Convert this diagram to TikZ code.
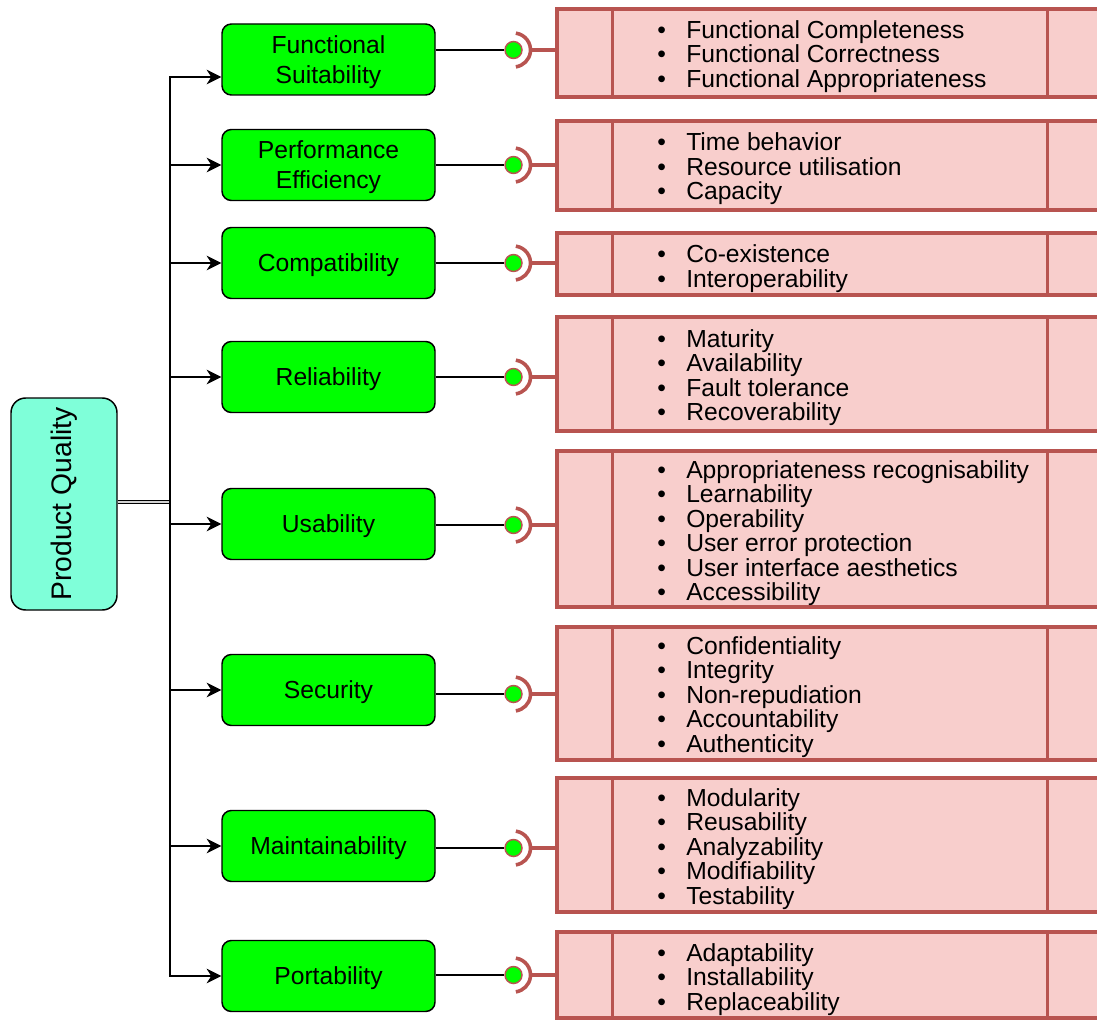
\documentclass[tikz,border=0pt]{standalone}
\usepackage{fontspec}
\setmainfont{Liberation Sans}
\usetikzlibrary{arrows.meta,calc}
\definecolor{gfill}{HTML}{00FF00}
\definecolor{pqfill}{HTML}{7FFFD9}
\definecolor{rline}{HTML}{B85450}
\definecolor{rfill}{HTML}{F8CECC}
\newcommand\itm[1]{\makebox[21.75pt][l]{\textbullet}#1}
\begin{document}
\begin{tikzpicture}[x=0.75pt,y=-0.75pt,
  pqnode/.style={draw=black, line width=1.1pt, fill=pqfill, rounded corners=11pt,
    minimum width=106*0.75pt, minimum height=212*0.75pt, inner sep=0pt,
    font=\fontsize{21.2}{25}\selectfont},
  gnode/.style={draw=black, line width=1.1pt, fill=gfill, rounded corners=7pt,
    minimum width=213*0.75pt, minimum height=71*0.75pt, inner sep=0pt, align=center,
    text depth=0pt, font=\fontsize{18.5}{22.5}\selectfont},
  feed/.style={draw=black, line width=1.1pt, -{Stealth[length=11pt,width=11pt,inset=3.5pt]}},
  dbl/.style={draw=black, line width=0.7pt, double=gray!35, double distance=1.4pt},
  link/.style={draw=black, line width=1.1pt},
  ball/.style={circle, draw=rline, line width=1.1pt, fill=gfill, minimum size=17*0.75pt, inner sep=0pt},
  socket/.style={draw=rline, line width=2.7pt},
  pbox/.style={draw=rline, fill=rfill, line width=2.3pt, minimum width=553*0.75pt, inner sep=0pt},
  divider/.style={draw=rline, line width=2.3pt},
  list/.style={anchor=west, align=left, inner sep=0pt, font=\fontsize{18.5}{18.4}\selectfont}
]
\useasboundingbox (0,0) rectangle (1097,1020);

% root
\node[pqnode] (pq) at (64,504) {\rotatebox{90}{Product Quality}};
\coordinate (j) at (170,502);
\draw[dbl] (pq.east |- j) -- (j);

% green nodes
\node[gnode] (g1) at (328.5,59.5) {Functional\\Suitability};
\node[gnode] (g2) at (328.5,165) {Performance\\Efficiency};
\node[gnode] (g3) at (328.5,263) {Compatibility};
\node[gnode] (g4) at (328.5,377) {Reliability};
\node[gnode] (g5) at (328.5,524) {Usability};
\node[gnode] (g6) at (328.5,690) {Security};
\node[gnode] (g7) at (328.5,846) {Maintainability};
\node[gnode] (g8) at (328.5,976) {Portability};

\draw[feed] (j) |- ([yshift=-17.5*0.75pt]g1.west);
\foreach \i in {2,...,8} { \draw[feed] (j) |- (g\i.west); }

% pink boxes
\node[pbox, minimum height=88*0.75pt]  (b1) at (833.5,53) {};
\node[pbox, minimum height=89*0.75pt]  (b2) at (833.5,165.5) {};
\node[pbox, minimum height=62*0.75pt]  (b3) at (833.5,264) {};
\node[pbox, minimum height=114*0.75pt] (b4) at (833.5,374) {};
\node[pbox, minimum height=156*0.75pt] (b5) at (833.5,529) {};
\node[pbox, minimum height=133*0.75pt] (b6) at (833.5,693.5) {};
\node[pbox, minimum height=134*0.75pt] (b7) at (833.5,845) {};
\node[pbox, minimum height=86*0.75pt]  (b8) at (833.5,975) {};
\foreach \i in {1,...,8} {
  \draw[divider] ($(b\i.north west)+(57,0)$) -- ($(b\i.south west)+(57,0)$);
  \draw[divider] ($(b\i.north west)+(492,0)$) -- ($(b\i.south west)+(492,0)$);
}

% lollipops
\foreach \i/\y in {1/50,2/165,3/263,4/377,5/525,6/694,7/848,8/975} {
  \node[ball] (l\i) at (513.5,\y) {};
  \draw[link] (g\i.east |- l\i) -- (l\i);
  \draw[socket] ([shift={(-82:17)}]l\i.center) arc[start angle=-82, end angle=82, radius=17];
  \draw[socket] ([xshift=17*0.75pt]l\i.center) -- (l\i -| b\i.west);
}

% lists
\node[list] (t1) at (657,56.5) {\itm{Functional Completeness}\\\itm{Functional Correctness}\\\itm{Functional Appropriateness}};
\node[list] (t2) at (657,169) {\itm{Time behavior}\\\itm{Resource utilisation}\\\itm{Capacity}};
\node[list] (t3) at (657,268.5) {\itm{Co-existence}\\\itm{Interoperability}};
\node[list] (t4) at (657,377.5) {\itm{Maturity}\\\itm{Availability}\\\itm{Fault tolerance}\\\itm{Recoverability}};
\node[list] (t5) at (657,533) {\itm{Appropriateness recognisability}\\\itm{Learnability}\\\itm{Operability}\\\itm{User error protection}\\\itm{User interface aesthetics}\\\itm{Accessibility}};
\node[list] (t6) at (657,697) {\itm{Confidentiality}\\\itm{Integrity}\\\itm{Non-repudiation}\\\itm{Accountability}\\\itm{Authenticity}};
\node[list] (t7) at (657,849) {\itm{Modularity}\\\itm{Reusability}\\\itm{Analyzability}\\\itm{Modifiability}\\\itm{Testability}};
\node[list] (t8) at (657,979.5) {\itm{Adaptability}\\\itm{Installability}\\\itm{Replaceability}};
\end{tikzpicture}
\end{document}
